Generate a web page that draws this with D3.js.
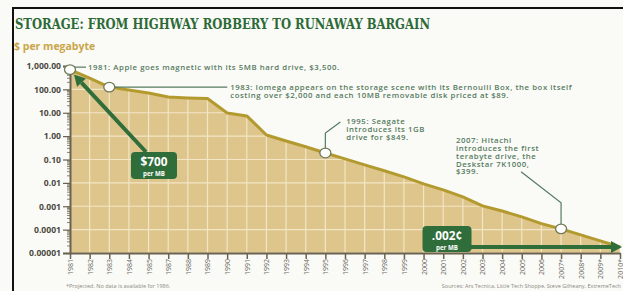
<!DOCTYPE html>
<html>
<head>
<meta charset="utf-8">
<script src="https://cdn.jsdelivr.net/npm/d3@7"></script>
<style>
  body { margin: 0; background: #fff; }
  svg { display: block; }
  text { font-family: "Open Sans", "DejaVu Sans", sans-serif; }
</style>
</head>
<body>
<div class="canvas"></div>
<script>
// years on the axis (no 1986), starred = projected
const years = ["1981","1982","1983","1984","1985","1987","1988","1989","1990","1991",
  "1992","1993","1994","1995","1996","1997","1998","1999","2000","2001","2002","2003",
  "2004","2005","2006","2007*","2008*","2009*","2010*"]
// $ per megabyte
const pricePerMB = [700, 300, 125, 94, 70, 47, 43, 41, 9.8, 7.3,
  1.12, 0.62, 0.35, 0.19, 0.106, 0.059, 0.033, 0.018, 0.0091, 0.005, 0.0025, 0.00104,
  0.00063, 0.00035, 0.00018, 0.000108, 0.00006, 0.000033, 0.000018]
const yTicks = [1000, 100, 10, 1, 0.1, 0.01, 0.001, 0.0001, 0.00001]
const yTickLabels = ["1,000.00","100.00","10.00","1.00","0.10","0.01","0.001","0.0001","0.00001"]

const width = 623
const height = 291

const svg = d3.select(".canvas").append("svg")
    .attr("width", width)
    .attr("height", height)

svg.append("rect").attr("width", width).attr("height", height).attr("fill", "#fafaf7")

// black frame (top + left)
svg.append("rect").attr("x", 12).attr("y", 7).attr("width", width - 12).attr("height", 2).attr("fill", "#111")
svg.append("rect").attr("x", 12).attr("y", 7).attr("width", 2).attr("height", height - 7).attr("fill", "#111")

svg.append("text")
    .attr("x", 15).attr("y", 29)
    .attr("textLength", 415).attr("lengthAdjust", "spacingAndGlyphs")
    .style("font-family", "'DejaVu Serif', serif")
    .style("font-weight", 900)
    .style("font-size", "14px")
    .attr("fill", "#2d6a37")
    .text("STORAGE: FROM HIGHWAY ROBBERY TO RUNAWAY BARGAIN")

svg.append("text")
    .attr("x", 14).attr("y", 50)
    .style("font-weight", 700).style("font-size", "10.5px")
    .attr("fill", "#c9a648")
    .text("$ per megabyte")

const x = d3.scalePoint().domain(years).range([70, 620])
const y = d3.scaleLog().domain([0.00001, 1000]).range([253, 66])

const data = years.map((yr, i) => ({ year: yr, value: pricePerMB[i] }))

const area = d3.area()
    .x(d => x(d.year))
    .y0(y(0.00001))
    .y1(d => y(d.value))

svg.append("clipPath").attr("id", "areaClip")
    .append("path").attr("d", area(data))

svg.append("path")
    .attr("d", area(data))
    .attr("fill", "#dec58c")

// grid inside the area only
const grid = svg.append("g").attr("clip-path", "url(#areaClip)")
grid.selectAll(".vg").data(years).enter().append("line")
    .attr("x1", d => x(d)).attr("x2", d => x(d))
    .attr("y1", y(1000)).attr("y2", y(0.00001))
    .attr("stroke", "#f2e6c6").attr("stroke-width", 1.2)
grid.selectAll(".hg").data(yTicks).enter().append("line")
    .attr("x1", x(years[0])).attr("x2", x(years[years.length - 1]))
    .attr("y1", d => y(d)).attr("y2", d => y(d))
    .attr("stroke", "#f2e6c6").attr("stroke-width", 1.2)

svg.append("path")
    .datum(data)
    .attr("d", d3.line().x(d => x(d.year)).y(d => y(d.value)))
    .attr("fill", "none")
    .attr("stroke", "#b39a2f")
    .attr("stroke-width", 3)
    .attr("stroke-linejoin", "round")

// y axis
const axisColor = "#6a6350"
const yAxis = svg.append("g")
    .attr("transform", "translate(70,0)")
    .call(d3.axisLeft(y).tickValues(yTicks).tickSize(7).tickPadding(2)
        .tickFormat((d, i) => yTickLabels[i]))
yAxis.select(".domain").attr("stroke", axisColor).attr("stroke-width", 2)
yAxis.selectAll(".tick line").attr("stroke", axisColor).attr("stroke-width", 1.2)
yAxis.selectAll(".tick text")
    .style("font-size", "8.6px").style("font-weight", 700)
    .attr("fill", "#4b4a42")

// minor log ticks
const minor = []
yTicks.slice(1).forEach(t => { for (let k = 2; k < 10; k++) minor.push(t * k) })
svg.append("g").selectAll("line").data(minor).enter().append("line")
    .attr("x1", 67).attr("x2", 70)
    .attr("y1", d => y(d)).attr("y2", d => y(d))
    .attr("stroke", axisColor).attr("stroke-width", 0.8)

// x axis
const xAxis = svg.append("g")
    .attr("transform", "translate(0," + y(0.00001) + ")")
    .call(d3.axisBottom(x).tickSize(6).tickSizeOuter(0))
xAxis.select(".domain").attr("stroke", axisColor).attr("stroke-width", 2)
xAxis.selectAll(".tick line").attr("stroke", axisColor).attr("stroke-width", 1.5)
xAxis.selectAll(".tick text")
    .attr("transform", "rotate(-90)")
    .attr("x", -6).attr("y", 0).attr("dy", "0.35em")
    .attr("text-anchor", "end")
    .style("font-size", "7px")
    .attr("fill", "#6b6a62")

// annotations
const noteColor = "#557a60"
const pt = yr => [x(yr), y(pricePerMB[years.indexOf(yr)])]

function note(lines, tx, ty, lh) {
    const t = svg.append("text").attr("fill", noteColor)
        .style("font-size", "7.8px").style("font-weight", 600)
        .style("letter-spacing", "0.55px")
    lines.forEach((l, i) => t.append("tspan").attr("x", tx).attr("y", ty + i * lh).text(l))
}

const conn = d3.line()
function connector(pts) {
    svg.append("path").attr("d", conn(pts)).attr("fill", "none")
        .attr("stroke", noteColor).attr("stroke-width", 1.2)
}

const p81 = pt("1981"), p83 = pt("1983"), p95 = pt("1995"), p07 = pt("2007*")
connector([[p81[0], p81[1] - 2.5], [p81[0] + 16, p81[1] - 2.5]])
note(["1981: Apple goes magnetic with its 5MB hard drive, $3,500."], p81[0] + 18, p81[1] + 0.3, 0)
connector([[p83[0], p83[1]], [p83[0] + 118, p83[1]]])
note(["1983: Iomega appears on the storage scene with its Bernoulli Box, the box itself",
      "costing over $2,000 and each 10MB removable disk priced at $89."], p83[0] + 121, p83[1] + 2.5, 8.5)
connector([[p95[0], p95[1]], [p95[0], p95[1] - 20], [p95[0] + 15, p95[1] - 31]])
note(["1995: Seagate", "introduces its 1GB", "drive for $849."], p95[0] + 21, p95[1] - 28.5, 8)
connector([[p07[0], p07[1]], [p07[0], p07[1] - 26], [p07[0] - 40, p07[1] - 57]])
note(["2007: Hitachi", "introduces the first", "terabyte drive, the", "Deskstar 7K1000,", "$399."],
     p07[0] - 105, p07[1] - 86, 7.9)

svg.selectAll(".marker").data([p81, p83, p95, p07]).enter().append("ellipse")
    .attr("cx", d => d[0]).attr("cy", d => d[1])
    .attr("rx", 5.5).attr("ry", 4.8)
    .attr("fill", "#fff").attr("stroke", "#6f7a55").attr("stroke-width", 1.3)

// green arrows and boxes
const green = "#2f6e3b"
function arrow(x1, y1, x2, y2) {
    const a = Math.atan2(y2 - y1, x2 - x1), L = 11, W = 6
    const bx = x2 - L * Math.cos(a), by = x2 === x1 ? y2 : y2 - L * Math.sin(a)
    svg.append("line").attr("x1", x1).attr("y1", y1).attr("x2", bx).attr("y2", by)
        .attr("stroke", green).attr("stroke-width", 4)
    svg.append("path").attr("fill", green).attr("d", d3.line()([
        [x2, y2],
        [bx + W * Math.sin(a), by - W * Math.cos(a)],
        [bx - W * Math.sin(a), by + W * Math.cos(a)]]))
}

function box(cx, top, w, h, big) {
    svg.append("rect").attr("x", cx - w / 2).attr("y", top).attr("width", w).attr("height", h)
        .attr("rx", 4).attr("fill", green)
    svg.append("text").attr("x", cx).attr("y", top + 13.5).attr("text-anchor", "middle")
        .attr("fill", "#fff").style("font-size", "11.8px").style("font-weight", 700).text(big)
    svg.append("text").attr("x", cx).attr("y", top + 23.5).attr("text-anchor", "middle")
        .attr("fill", "#fff").style("font-size", "6.2px").style("font-weight", 700).text("per MB")
}

arrow(146, 152, p81[0] + 4, p81[1] + 5)
box(154, 152, 46, 27, "$700")

const pEnd = pt("2010*")
arrow(470, pEnd[1], pEnd[0] + 2, pEnd[1])
box(447, 226, 49, 26, ".002\u00a2")

// footnotes
svg.append("text").attr("x", 66).attr("y", 288)
    .style("font-size", "5.5px").attr("fill", "#8a8a80")
    .text("*Projected. No data is available for 1986.")
svg.append("text").attr("x", 621).attr("y", 288).attr("text-anchor", "end")
    .style("font-size", "5.5px").attr("fill", "#8a8a80")
    .text("Sources: Ars Tecnica, Little Tech Shoppe, Steve Gilheany, ExtremeTech")
</script>
</body>
</html>
